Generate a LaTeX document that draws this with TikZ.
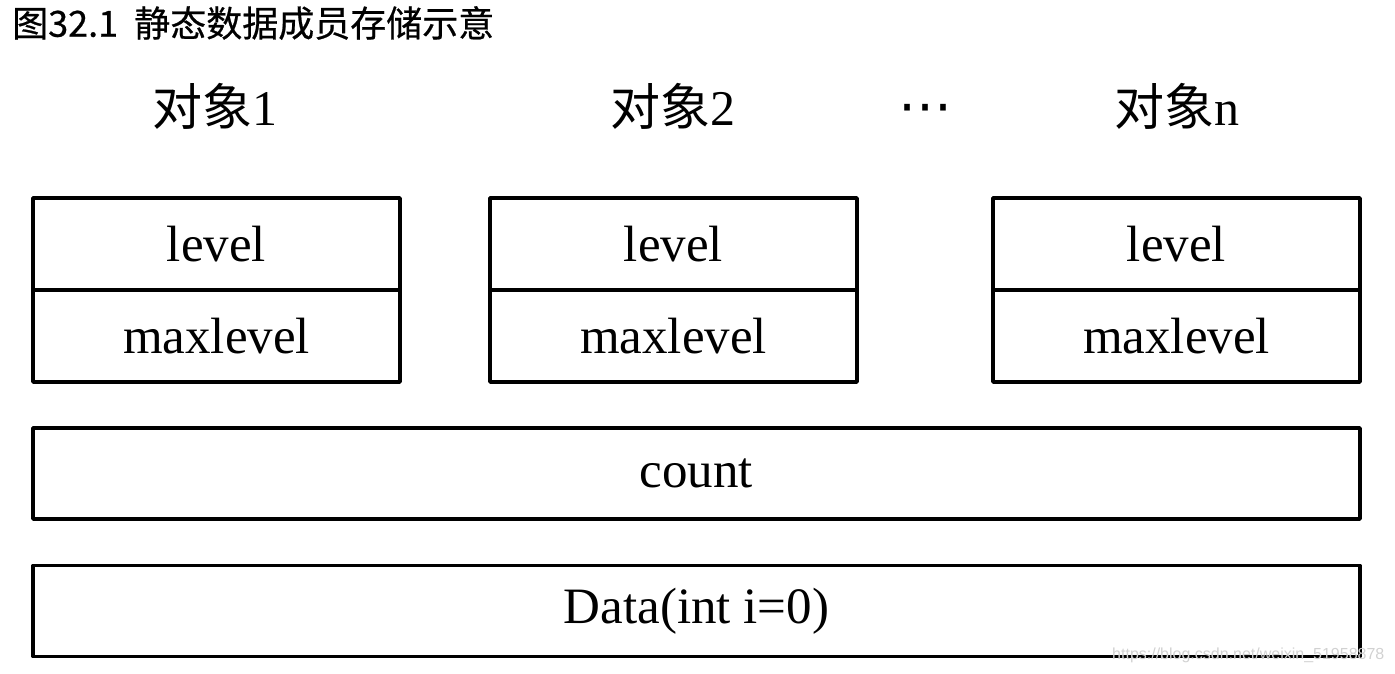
\documentclass[tikz,border=0pt]{standalone}
\usepackage{fontspec}
\setmainfont{Liberation Serif}
\newfontfamily\cjksans{Noto Sans CJK SC}
\newfontfamily\titlefont[FakeBold=0.6]{Noto Sans CJK SC}
\newfontfamily\wmfont{Liberation Sans}
\newfontfamily\symfont{DejaVu Sans}
\begin{document}
\begin{tikzpicture}[x=1pt,y=-1pt,
  wide/.style={draw=black,line width=3.5pt,line join=round,minimum width=1327pt,minimum height=91pt,inner sep=0pt,font=\fontsize{51}{51}\selectfont},
  celltext/.style={inner sep=0pt,font=\fontsize{51}{51}\selectfont},
  objlabel/.style={font=\fontsize{50}{50}\selectfont,inner sep=0pt}]
\useasboundingbox (0,0) rectangle (1395,674);
% title
\node[anchor=west,inner sep=0pt,font=\titlefont\fontsize{36}{36}\selectfont] (title) at (12,23) {图32.1\ \ 静态数据成员存储示意};
% object labels
\node[objlabel] (o1) at (215,106) {\cjksans 对象\rmfamily 1};
\node[objlabel] (o2) at (673,106) {\cjksans 对象\rmfamily 2};
\node[objlabel,font=\symfont\fontsize{54}{54}\selectfont] (dots) at (925,114) {⋯};
\node[objlabel] (on) at (1177,106) {\cjksans 对象\rmfamily n};
% object boxes
\foreach \n/\cx in {a/216.5,b/673.5,c/1176.5}{
  \draw[line width=3.5pt,line join=round] (\cx-183.5,198) rectangle (\cx+183.5,382);
  \draw[line width=3.5pt] (\cx-183.5,290) -- (\cx+183.5,290);
  \node[celltext] (lv\n) at (\cx,244) {level};
  \node[celltext] (ml\n) at (\cx,336) {maxlevel};
}
% shared boxes
\node[wide] (count) at (696.5,473.5) {count};
\node[wide] (data) at (696.5,611) {Data(int i=0)};
% watermark
\node[anchor=west,inner sep=0pt,text=black!18,font=\wmfont\fontsize{16}{16}\selectfont] (wm) at (1112,655) {https://blog.csdn.net/weixin\_51958878};
\end{tikzpicture}
\end{document}
